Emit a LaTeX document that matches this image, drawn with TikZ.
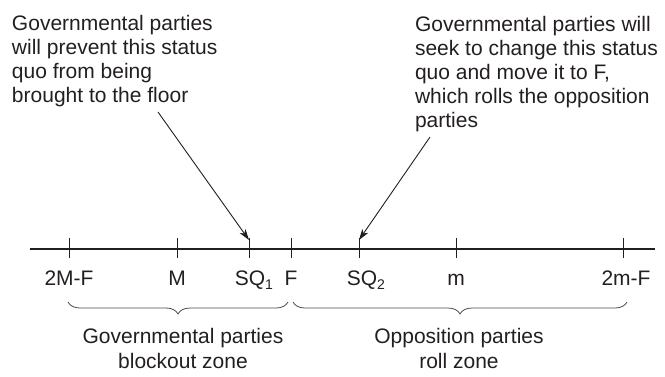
\documentclass[tikz,border=0pt]{standalone}
\usepackage{fontspec}
\setmainfont{Liberation Sans}
\usetikzlibrary{arrows.meta,decorations.pathreplacing}
\definecolor{ink}{HTML}{231F20}
\begin{document}
\begin{tikzpicture}[x=1pt,y=-1pt,
  txt/.style={inner sep=0pt,outer sep=0pt,text=ink,font=\fontsize{21}{24}\selectfont},
  axislbl/.style={txt,anchor=base},
  linel/.style={txt,anchor=base west},
  linec/.style={txt,anchor=base},
  tickline/.style={draw=ink,line width=1pt},
  ptr/.style={draw=ink,line width=0.9pt,-{Stealth[length=11pt,width=7pt,inset=3pt]}},
  zbrace/.style={draw=ink!80,line width=0.8pt,decorate,decoration={brace,mirror,amplitude=12pt}}]
\useasboundingbox (0,0) rectangle (665,376);
% axis
\coordinate (L) at (30,249);
\coordinate (R) at (655,249);
\draw[draw=ink,line width=2.4pt] (L) -- (R);
% ticks
\foreach \n/\x in {t1/69,t2/177,t3/249,t4/291,t5/359,t6/456,t7/623}{
  \coordinate (\n top) at (\x,238);
  \coordinate (\n bot) at (\x,258);
  \draw[tickline] (\n top) -- (\n bot);
}
% axis labels
\node[axislbl] (l1) at (69,285) {2M-F};
\node[axislbl] (l2) at (177,285) {M};
\node[axislbl] (l3) at (250,285) {SQ\rlap{\raisebox{-4pt}{\fontsize{14}{14}\selectfont 1}}};
\node[axislbl] (l4) at (291,285) {F};
\node[axislbl] (l5) at (362,285) {SQ\rlap{\raisebox{-4pt}{\fontsize{14}{14}\selectfont 2}}};
\node[axislbl] (l6) at (456,285) {m};
\node[axislbl] (l7) at (626,285) {2m-F};
% braces
\coordinate (b1a) at (68,302);
\coordinate (b1b) at (288,302);
\coordinate (b2a) at (293,302);
\coordinate (b2b) at (627,302);
\draw[zbrace] (b1a) -- (b1b);
\draw[zbrace] (b2a) -- (b2b);
\node[linec] (z1a) at (183,343) {Governmental parties};
\node[linec] (z1b) at (183,368) {blockout zone};
\node[linec] (z2a) at (459,343) {Opposition parties};
\node[linec] (z2b) at (459,368) {roll zone};
% annotations
\node[linel] (a1) at (12,30) {Governmental parties};
\node[linel] (a2) at (12,54) {will prevent this status};
\node[linel] (a3) at (12,78) {quo from being};
\node[linel] (a4) at (12,102) {brought to the floor};
\node[linel] (c1) at (415,31) {Governmental parties will};
\node[linel] (c2) at (415,55) {seek to change this status};
\node[linel] (c3) at (415,79) {quo and move it to F,};
\node[linel] (c4) at (415,103) {which rolls the opposition};
\node[linel] (c5) at (415,127) {parties};
\coordinate (s1) at (158,112);
\coordinate (s2) at (430,137);
\draw[ptr] (s1) -- ([yshift=-2pt]t3top);
\draw[ptr] (s2) -- ([yshift=-2pt]t5top);
\end{tikzpicture}
\end{document}
